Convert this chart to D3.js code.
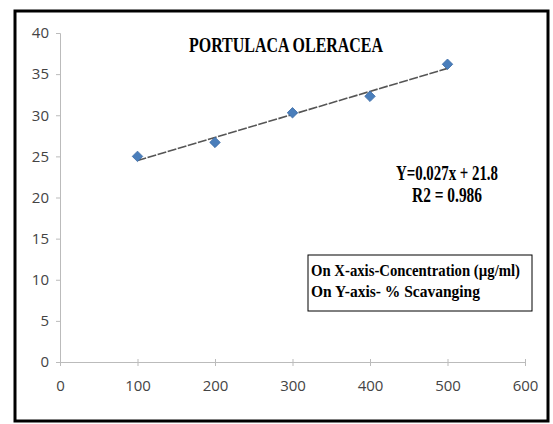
<!DOCTYPE html>
<html>
<head>
<script src="https://d3js.org/d3.v7.min.js"></script>
<style>
  body { margin: 0; background: #fff; }
</style>
</head>
<body>
<svg id="chart" width="553" height="424"></svg>
<script>
  const concentrations = [100, 200, 300, 400, 500];
  const scavenging = [25.0, 26.7, 30.3, 32.3, 36.2];
  const xTicks = [0, 100, 200, 300, 400, 500, 600];
  const yTicks = [0, 5, 10, 15, 20, 25, 30, 35, 40];
  const title = 'PORTULACA OLERACEA';
  const equationLines = ['Y=0.027x + 21.8', 'R2 = 0.986'];
  const noteLines = ['On X-axis-Concentration (\u00b5g/ml)', 'On Y-axis- % Scavanging'];

  const serifFont = '"Liberation Serif", "DejaVu Serif", serif';
  const tickFont = '"Liberation Sans Narrow", "Open Sans", sans-serif';

  const svg = d3.select('#chart');

  // outer frame
  svg.append('rect')
    .attr('x', 15).attr('y', 11)
    .attr('width', 533).attr('height', 410)
    .attr('fill', 'none').attr('stroke', '#000').attr('stroke-width', 3);

  const x = d3.scaleLinear().domain([0, 600]).range([60, 525]);
  const y = d3.scaleLinear().domain([0, 40]).range([362, 33]);

  const xAxis = svg.append('g')
    .attr('transform', `translate(0, ${y(0)})`)
    .call(d3.axisBottom(x).tickValues(xTicks).tickSize(4).tickPadding(14));
  const yAxis = svg.append('g')
    .attr('transform', `translate(${x(0)}, 0)`)
    .call(d3.axisLeft(y).tickValues(yTicks).tickSize(4).tickPadding(7));
  [xAxis, yAxis].forEach(g => {
    g.attr('font-family', tickFont).attr('font-size', 15);
    g.select('.domain').attr('stroke', '#bbb');
    g.selectAll('.tick line').attr('stroke', '#bbb');
    g.selectAll('.tick text').attr('fill', '#444');
  });
  xAxis.selectAll('.tick line').attr('y1', -3);

  // linear trendline fitted to the points
  const mx = d3.mean(concentrations), my = d3.mean(scavenging);
  const slope = d3.sum(concentrations, (c, i) => (c - mx) * (scavenging[i] - my)) /
                d3.sum(concentrations, c => (c - mx) * (c - mx));
  const icpt = my - slope * mx;
  const xs = d3.extent(concentrations);
  svg.append('line')
    .attr('x1', x(xs[0])).attr('y1', y(icpt + slope * xs[0]))
    .attr('x2', x(xs[1])).attr('y2', y(icpt + slope * xs[1]))
    .attr('stroke', '#555').attr('stroke-width', 1.6)
    .attr('stroke-dasharray', '9,1.5');

  // diamond markers
  const diamond = d3.symbol().type(d3.symbolDiamond2).size(70);
  svg.selectAll('path.pt')
    .data(concentrations.map((c, i) => [c, scavenging[i]]))
    .enter().append('path')
    .attr('class', 'pt')
    .attr('d', diamond)
    .attr('transform', d => `translate(${x(d[0])}, ${y(d[1])})`)
    .attr('fill', '#4a7ebb').attr('stroke', '#3a6aa5').attr('stroke-width', 0.8);

  const label = (sel) => sel
    .style('font-family', serifFont).style('font-weight', 'bold')
    .attr('fill', '#000').attr('lengthAdjust', 'spacingAndGlyphs');

  svg.append('text')
    .call(label)
    .attr('x', 286).attr('y', 52)
    .attr('text-anchor', 'middle').style('font-size', '20px')
    .attr('textLength', 194)
    .text(title);

  svg.selectAll('text.eq')
    .data(equationLines)
    .enter().append('text')
    .attr('class', 'eq')
    .call(label)
    .attr('x', 447).attr('y', (d, i) => 180 + i * 22)
    .attr('text-anchor', 'middle').style('font-size', '21px')
    .attr('textLength', (d, i) => i === 0 ? 102 : 70)
    .text(d => d);

  svg.append('rect')
    .attr('x', 308).attr('y', 255)
    .attr('width', 224).attr('height', 56)
    .attr('fill', '#fff').attr('stroke', '#000').attr('stroke-width', 1);

  svg.selectAll('text.note')
    .data(noteLines)
    .enter().append('text')
    .attr('class', 'note')
    .call(label)
    .attr('x', 311).attr('y', (d, i) => 276 + i * 21)
    .style('font-size', '17px')
    .attr('textLength', (d, i) => i === 0 ? 209 : 169)
    .text(d => d);
</script>
</body>
</html>
